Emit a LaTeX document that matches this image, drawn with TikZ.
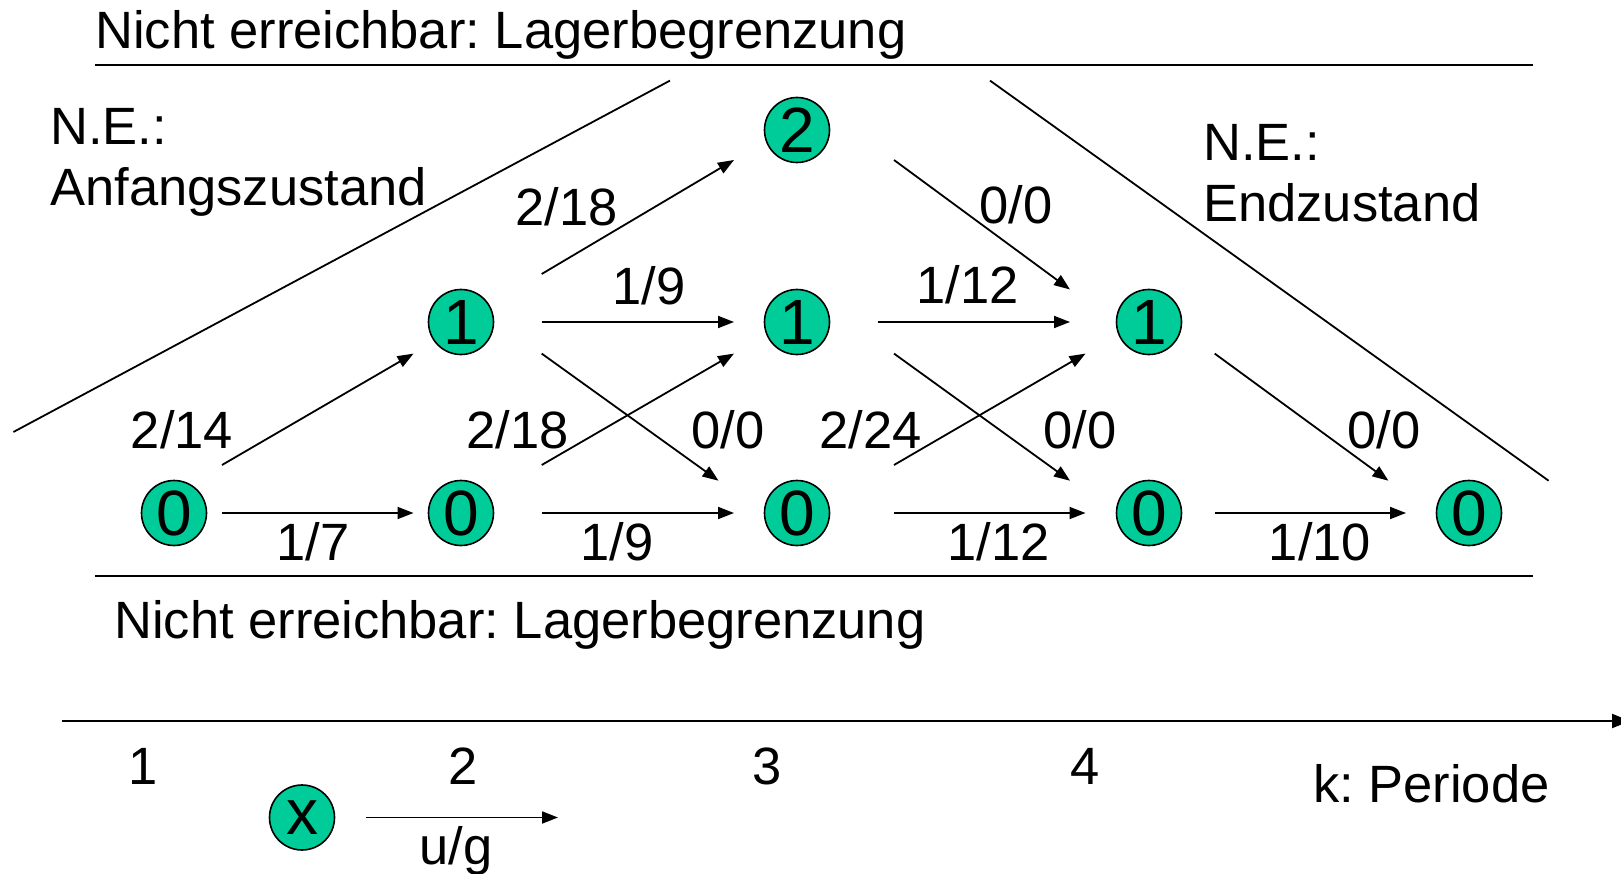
\documentclass[tikz,border=0pt]{standalone}
\usepackage{fontspec}
\setmainfont{Liberation Sans}
\usetikzlibrary{arrows.meta,calc}
\frenchspacing
\definecolor{statefill}{RGB}{0,204,153}
\tikzset{
  state/.style={circle,draw=black,line width=1.6pt,fill=statefill,minimum size=65pt,inner sep=0pt,
    font=\fontsize{64pt}{70pt}\selectfont},
  lbl/.style={anchor=base,inner sep=0pt,font=\fontsize{52.5pt}{63pt}\selectfont},
  txt/.style={anchor=base west,inner sep=0pt,font=\fontsize{52.5pt}{63pt}\selectfont},
  arr/.style={line width=1.8pt,-{Triangle[length=16pt,width=12pt]}},
  rule/.style={line width=1.8pt},
}
\begin{document}
\begin{tikzpicture}[x=1pt,y=-1pt]
\useasboundingbox (0,0) rectangle (1621,874);

% limits of the reachable region
\draw[rule] (95,65) -- (1533,65);
\draw[rule] (95,576) -- (1533,576);
\draw[rule] (13.4,432) -- (670,80.6);
\draw[rule] (990,80.6) -- (1548.6,480.7);

\node[txt] (topnote) at (95,49) {Nicht erreichbar: Lagerbegrenzung};
\node[txt] (botnote) at (114,638) {Nicht erreichbar: Lagerbegrenzung};
\node[txt] (ne1) at (50,145) {N.E.:};
\node[txt] (ne1b) at (50,206) {Anfangszustand};
\node[txt] (ne2) at (1203,161) {N.E.:};
\node[txt] (ne2b) at (1203,222) {Endzustand};

% states per period
\node[state] (n10) at (174,513) {0};
\node[state] (n21) at (461,322) {1};
\node[state] (n20) at (461,513) {0};
\node[state] (n32) at (797,130) {2};
\node[state] (n31) at (797,322) {1};
\node[state] (n30) at (797,513) {0};
\node[state] (n41) at (1149,322) {1};
\node[state] (n40) at (1149,513) {0};
\node[state] (n50) at (1469,513) {0};

% transitions
\draw[arr] ($(n10)+(48,-48)$) -- ($(n21)+(-47.5,31.6)$);
\draw[arr] ($(n10)+(48,0)$) -- ($(n20)+(-47.5,0)$);
\draw[arr] ($(n21)+(80.7,-48)$) -- ($(n32)+(-63,30)$);
\draw[arr] ($(n21)+(80.7,0)$) -- ($(n31)+(-63,0)$);
\draw[arr] ($(n21)+(80.7,31.6)$) -- ($(n30)+(-78.5,-32.3)$);
\draw[arr] ($(n20)+(80.7,-48)$) -- ($(n31)+(-63,31.6)$);
\draw[arr] ($(n20)+(80.7,0)$) -- ($(n30)+(-63,0)$);
\draw[arr] ($(n32)+(97,30)$) -- ($(n41)+(-79,-32.5)$);
\draw[arr] ($(n31)+(80.7,0)$) -- ($(n41)+(-79,0)$);
\draw[arr] ($(n31)+(97,31.6)$) -- ($(n40)+(-79,-32.3)$);
\draw[arr] ($(n30)+(97,-48)$) -- ($(n41)+(-63.5,31.6)$);
\draw[arr] ($(n30)+(97,0)$) -- ($(n40)+(-63.5,0)$);
\draw[arr] ($(n41)+(65.7,31.6)$) -- ($(n50)+(-80.6,-32.3)$);
\draw[arr] ($(n40)+(65.7,0)$) -- ($(n50)+(-63,0)$);

% transition labels
\node[lbl] (l1) at (566.5,226) {2/18};
\node[lbl] (l2) at (649,305) {1/9};
\node[lbl] (l3) at (1016,224) {0/0};
\node[lbl] (l4) at (967.6,304) {1/12};
\node[lbl] (l5) at (182,448) {2/14};
\node[lbl] (l6) at (517.5,448) {2/18};
\node[lbl] (l7) at (728,448) {0/0};
\node[lbl] (l8) at (870.5,448) {2/24};
\node[lbl] (l9) at (1080,448) {0/0};
\node[lbl] (l10) at (1384,448) {0/0};
\node[lbl] (l11) at (313,560) {1/7};
\node[lbl] (l12) at (617,560) {1/9};
\node[lbl] (l13) at (998.6,560) {1/12};
\node[lbl] (l14) at (1320,560) {1/10};

% period axis
\coordinate (axs) at (62,721);
\coordinate (axe) at (1630,721);
\draw[line width=2.2pt,-{Triangle[length=18pt,width=14pt]}] (axs) -- (axe);
\node[lbl] (k1) at (143,784) {1};
\node[lbl] (k2) at (463.5,784) {2};
\node[lbl] (k3) at (767,784) {3};
\node[lbl] (k4) at (1085,784) {4};
\node[txt] (kp) at (1313,802) {k: Periode};

% legend
\node[state] (xs) at (302,817.5) {x};
\coordinate (ug) at (558,817.5);
\draw[arr] ($(xs)+(64,0)$) -- (ug);
\node[lbl] (ugl) at (456,864) {u/g};
\end{tikzpicture}
\end{document}
